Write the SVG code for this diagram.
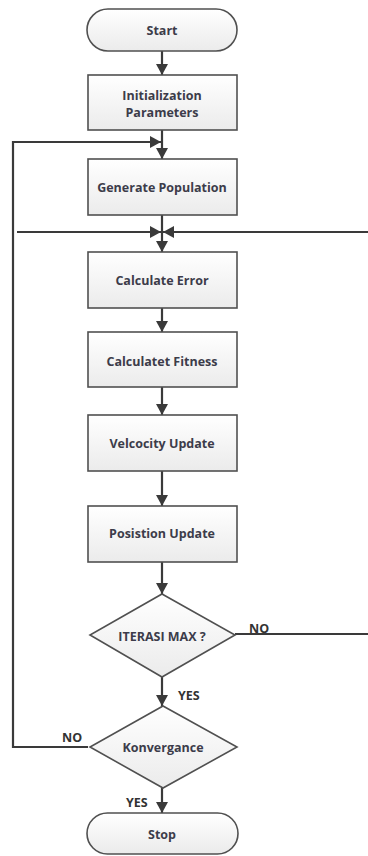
<svg xmlns="http://www.w3.org/2000/svg" width="368" height="856" viewBox="0 0 368 856">
<defs>
<linearGradient id="g" x1="0" y1="0" x2="0" y2="1">
<stop offset="0" stop-color="#ffffff"/>
<stop offset="1" stop-color="#ebebeb"/>
</linearGradient>
<marker id="ah" viewBox="0 0 10 10" refX="10" refY="5" markerWidth="11" markerHeight="12" markerUnits="userSpaceOnUse" orient="auto" preserveAspectRatio="none">
<path d="M0,0 L10,5 L0,10 Z" fill="#3a3a3a"/>
</marker>
</defs>
<style>
.n{fill:url(#g);stroke:#505050;stroke-width:1.6}
.t{font-family:"Open Sans","Liberation Sans",sans-serif;font-weight:700;font-size:12.5px;fill:#3c3c4a;text-anchor:middle}
.l{font-family:"Open Sans","Liberation Sans",sans-serif;font-weight:700;font-size:12.5px;fill:#333333}
.c{fill:none;stroke:#3a3a3a;stroke-width:2.2}
</style>
<rect width="368" height="856" fill="#ffffff"/>
<g id="connectors">
<line class="c" x1="162" y1="51" x2="162" y2="75" marker-end="url(#ah)"/>
<line class="c" x1="162" y1="130" x2="162" y2="159" marker-end="url(#ah)"/>
<polyline class="c" points="88,747 13,747 13,142 161,142" marker-end="url(#ah)"/>
<line class="c" x1="162" y1="215" x2="162" y2="252" marker-end="url(#ah)"/>
<line class="c" x1="17" y1="232" x2="161" y2="232" marker-end="url(#ah)"/>
<polyline class="c" points="235,634 368,634"/>
<line class="c" x1="368" y1="232" x2="163" y2="232" marker-end="url(#ah)"/>
<line class="c" x1="162" y1="308" x2="162" y2="332" marker-end="url(#ah)"/>
<line class="c" x1="162" y1="387" x2="162" y2="415" marker-end="url(#ah)"/>
<line class="c" x1="162" y1="471" x2="162" y2="506" marker-end="url(#ah)"/>
<line class="c" x1="162" y1="562" x2="162" y2="594" marker-end="url(#ah)"/>
<line class="c" x1="162" y1="677" x2="162" y2="706" marker-end="url(#ah)"/>
<line class="c" x1="162" y1="788" x2="162" y2="813" marker-end="url(#ah)"/>
<text class="l" x="249" y="633">NO</text>
<text class="l" x="178" y="700">YES</text>
<text class="l" x="62" y="742">NO</text>
<text class="l" x="126" y="807">YES</text>
</g>
<g id="start">
<rect class="n" x="87" y="9" width="150" height="42" rx="21"/>
<text class="t" x="162" y="34.5">Start</text>
</g>
<g id="init">
<rect class="n" x="88" y="75" width="149" height="55"/>
<text class="t" x="162" y="100" font-size="12">Initialization</text>
<text class="t" x="162" y="116.5" font-size="12">Parameters</text>
</g>
<g id="generate">
<rect class="n" x="88" y="159" width="149" height="56"/>
<text class="t" x="162" y="191.5">Generate Population</text>
</g>
<g id="error">
<rect class="n" x="88" y="252" width="149" height="56"/>
<text class="t" x="162" y="284.5">Calculate Error</text>
</g>
<g id="fitness">
<rect class="n" x="88" y="332" width="149" height="55"/>
<text class="t" x="162" y="365.5">Calculatet Fitness</text>
</g>
<g id="velocity">
<rect class="n" x="88" y="415" width="149" height="56"/>
<text class="t" x="162" y="447.5">Velcocity Update</text>
</g>
<g id="position">
<rect class="n" x="88" y="506" width="149" height="56"/>
<text class="t" x="162" y="537.5">Posistion Update</text>
</g>
<g id="iterasi">
<polygon class="n" points="162,594 235,635 162,677 90,635"/>
<text class="t" x="162" y="640.5">ITERASI MAX ?</text>
</g>
<g id="konvergance">
<polygon class="n" points="163,706 237,747 163,788 90,747"/>
<text class="t" x="163" y="751.5">Konvergance</text>
</g>
<g id="stop">
<rect class="n" x="87" y="813" width="151" height="41" rx="20.5"/>
<text class="t" x="162" y="838.5">Stop</text>
</g>
</svg>
